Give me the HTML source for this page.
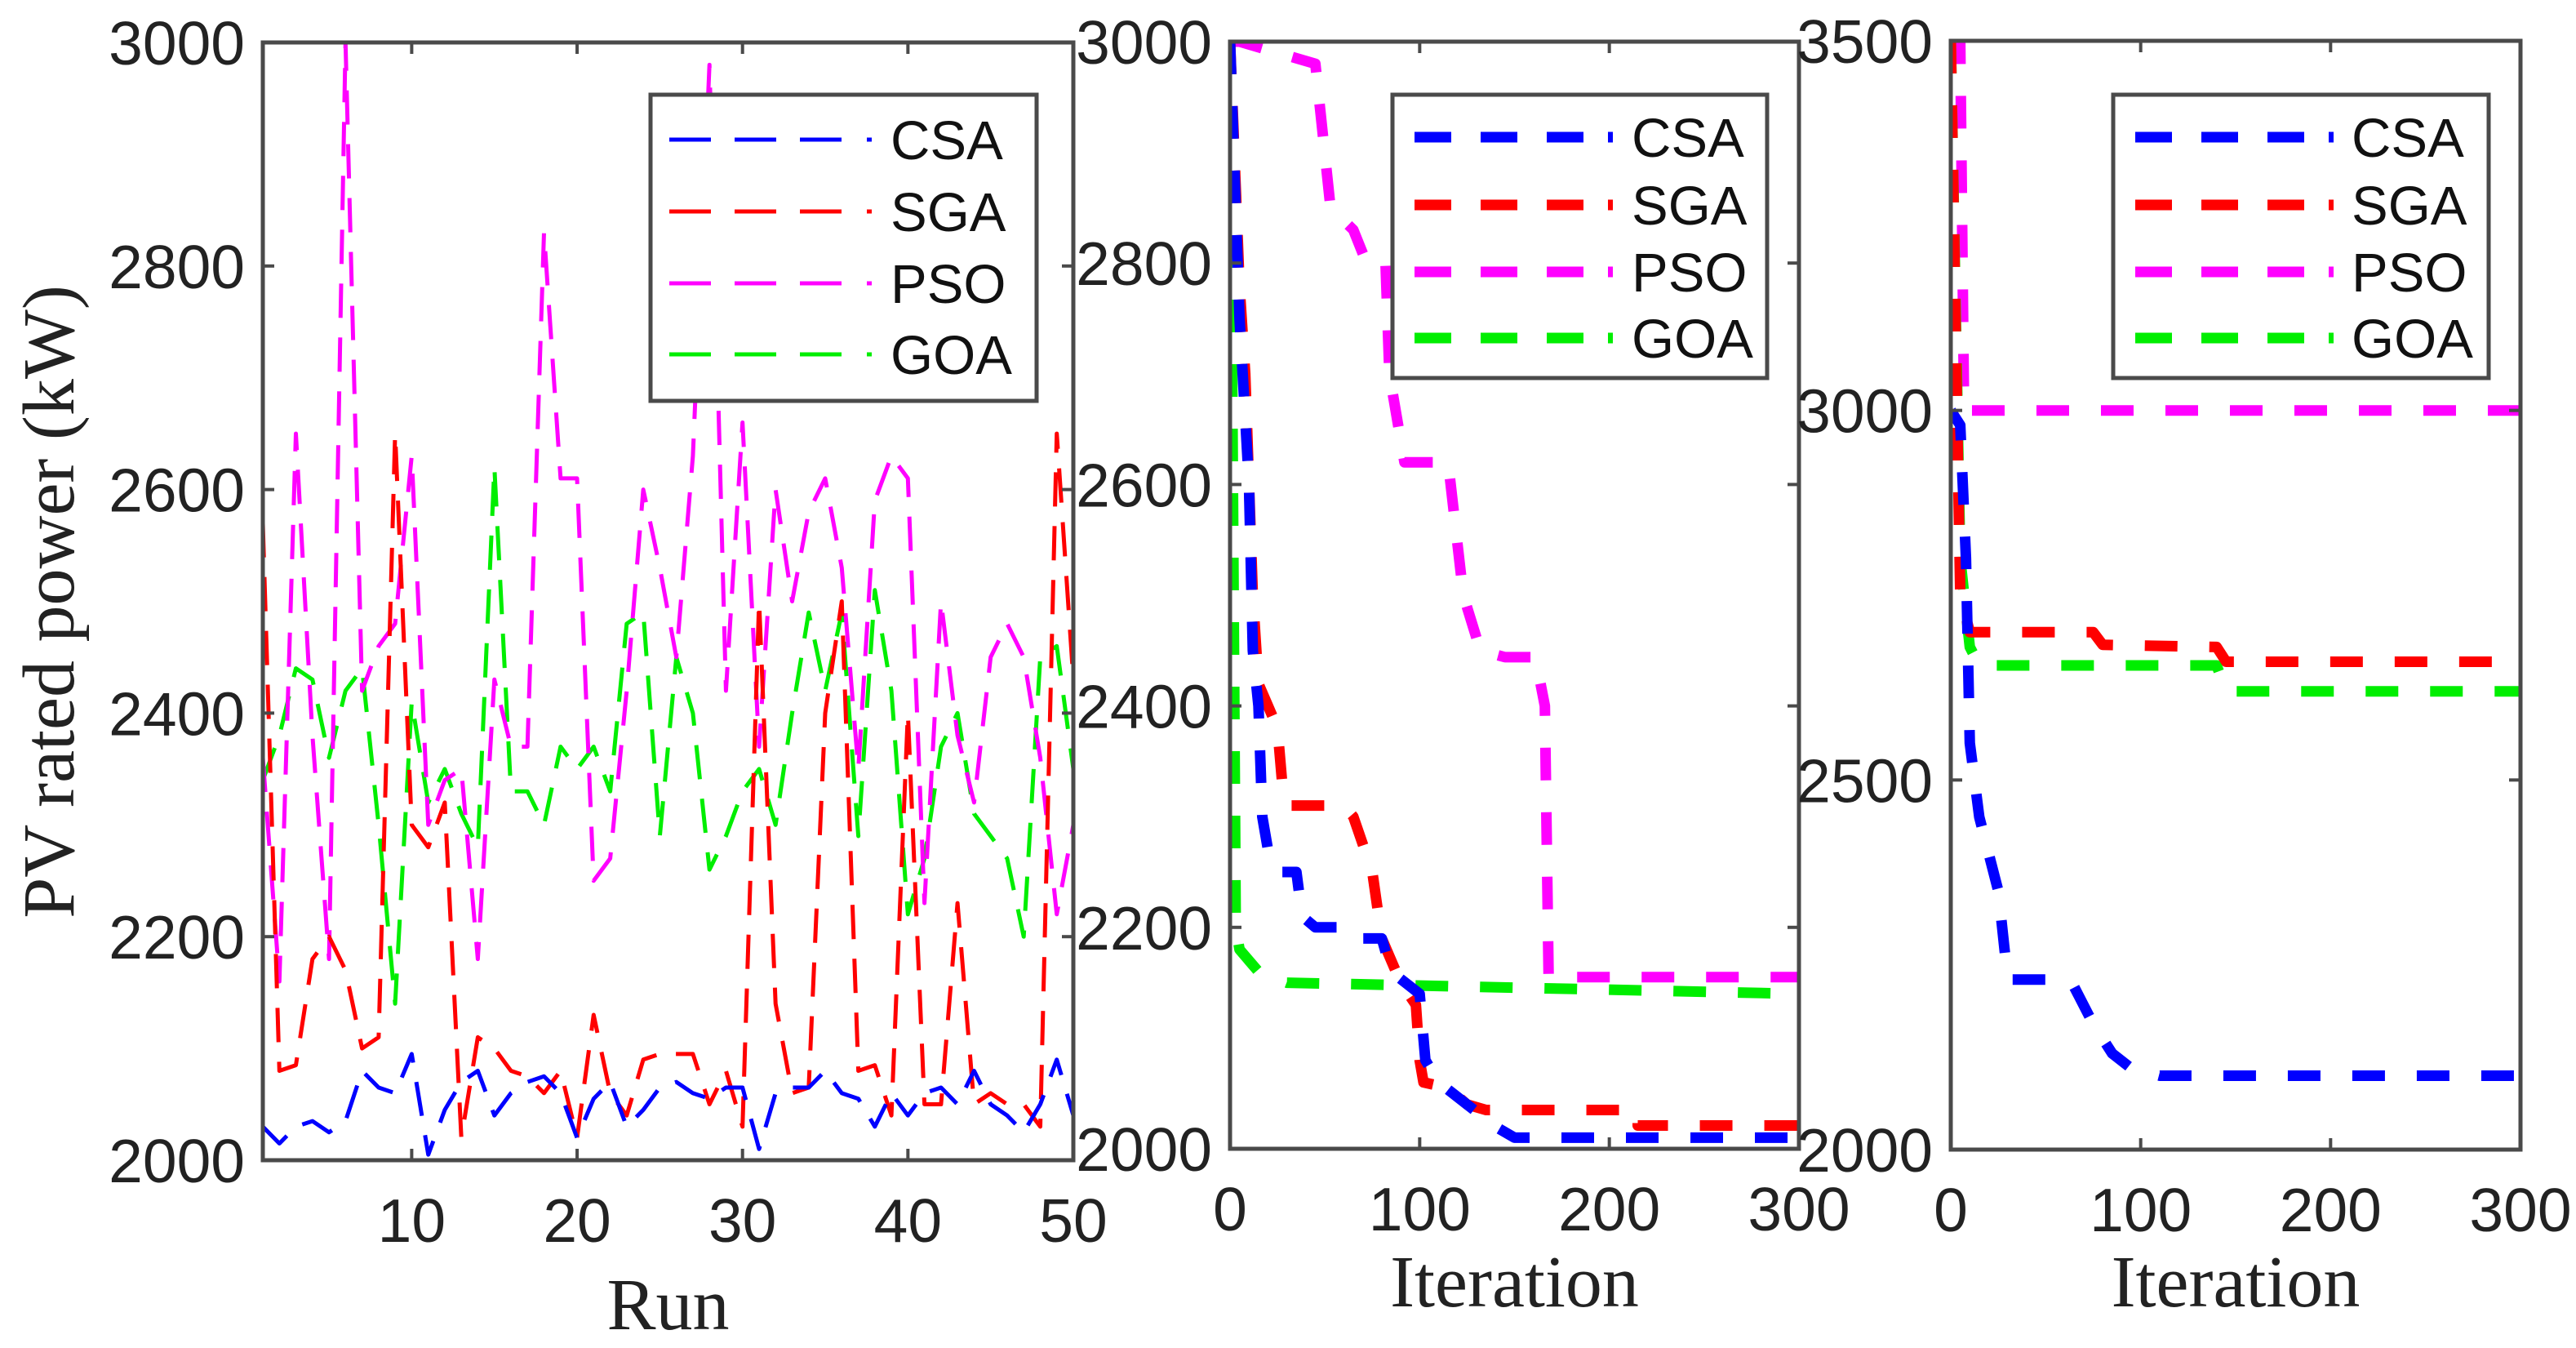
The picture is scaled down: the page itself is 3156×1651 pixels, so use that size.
<!DOCTYPE html>
<html>
<head>
<meta charset="utf-8">
<style>
html,body{margin:0;padding:0;background:#fff;}
svg{display:block;}
.tick{font-family:"Liberation Sans",Arial,sans-serif;font-size:75px;fill:#222;}
.lab{font-family:"Liberation Serif","Times New Roman",serif;font-size:90px;fill:#222;}
.leg{font-family:"Liberation Sans",Arial,sans-serif;font-size:67px;fill:#111;}
</style>
</head>
<body>
<svg id="chart" width="3156" height="1651" viewBox="0 0 3156 1651" xmlns="http://www.w3.org/2000/svg">
<rect x="0" y="0" width="3156" height="1651" fill="#fff"/>
</svg>
<script>
// ---------- Panel 1 data (Run vs PV rated power) ----------
const runs = Array.from({length:50},(_,i)=>i+1);
const runCSA = [2030,2015,2030,2035,2025,2035,2080,2065,2060,2095,2005,2045,2070,2080,2040,2060,2070,2075,2060,2020,2055,2070,2030,2045,2065,2070,2060,2055,2065,2065,2010,2060,2065,2065,2080,2060,2055,2030,2060,2040,2060,2065,2050,2080,2050,2040,2025,2050,2090,2040];
const runSGA = [2570,2080,2085,2180,2200,2170,2100,2110,2650,2300,2280,2320,2020,2110,2100,2080,2075,2060,2080,2020,2130,2060,2040,2090,2095,2095,2095,2050,2080,2030,2500,2140,2060,2065,2400,2500,2080,2085,2040,2400,2050,2050,2230,2050,2060,2050,2050,2030,2650,2430];
const runPSO = [2360,2160,2650,2380,2180,3000,2420,2460,2480,2630,2300,2340,2350,2180,2430,2370,2370,2830,2610,2610,2250,2270,2420,2600,2530,2450,2630,2980,2420,2660,2370,2600,2500,2580,2610,2530,2350,2590,2630,2610,2230,2500,2380,2320,2450,2480,2450,2360,2220,2300];
const runGOA = [2340,2380,2440,2430,2360,2420,2440,2300,2140,2410,2320,2350,2310,2280,2620,2330,2330,2300,2370,2350,2370,2330,2480,2490,2290,2450,2400,2260,2290,2330,2350,2300,2400,2490,2420,2490,2290,2510,2420,2220,2270,2370,2400,2310,2290,2270,2200,2450,2460,2350];
const p1XTicks = [10,20,30,40,50];
const p1YTicks = [2000,2200,2400,2600,2800,3000];

// ---------- Panel 2 data (Iteration convergence) ----------
const p2CSAit = [0,5,10,12,15,17,20,25,35,38,45,60,65,80,85,100,103,110,125,140,150,300];
const p2CSAval = [3000,2750,2600,2450,2400,2300,2270,2250,2250,2210,2200,2200,2190,2190,2160,2140,2080,2060,2040,2020,2010,2010];
const p2SGAit = [0,5,8,12,15,20,25,28,30,60,65,75,80,90,98,100,102,115,125,135,215,215,300];
const p2SGAval = [3000,2780,2700,2500,2420,2400,2380,2320,2310,2310,2300,2250,2190,2150,2130,2080,2060,2055,2040,2035,2035,2021,2021];
const p2PSOit = [0,5,45,53,65,72,82,84,92,115,123,132,145,161,166,168,300];
const p2PSOval = [3000,3000,2980,2850,2830,2800,2800,2700,2620,2620,2500,2450,2444,2444,2400,2155,2155];
const p2GOAit = [0,3,5,10,15,30,300];
const p2GOAval = [3000,2200,2180,2170,2160,2150,2140];
const p2XTicks = [0,100,200,300];
const p2YTicks = [2000,2200,2400,2600,2800,3000];

// ---------- Panel 3 data ----------
const p3CSAit = [0,5,8,10,15,25,30,60,65,75,85,95,110,300];
const p3CSAval = [3000,2980,2800,2550,2450,2350,2230,2230,2220,2170,2130,2110,2100,2100];
const p3SGAit = [0,5,10,75,80,140,145,300];
const p3SGAval = [3500,2750,2700,2700,2683,2680,2660,2660];
const p3PSOit = [0,5,7,300];
const p3PSOval = [3500,3500,3000,3000];
const p3GOAit = [0,5,10,15,140,145,300];
const p3GOAval = [3500,2800,2680,2655,2655,2620,2620];
const p3XTicks = [0,100,200,300];
const p3YTicks = [2000,2500,3000,3500];

const seriesNames = ['CSA','SGA','PSO','GOA'];
const COLORS = {CSA:'#0000ff',SGA:'#ff0000',PSO:'#ff00ff',GOA:'#00ee00'};

const NS='http://www.w3.org/2000/svg';
const svg=document.getElementById('chart');
function mk(tag,attrs,parent){const e=document.createElementNS(NS,tag);for(const k in attrs)e.setAttribute(k,attrs[k]);(parent||svg).appendChild(e);return e;}
function scale(d0,d1,r0,r1){return v=>r0+(v-d0)/(d1-d0)*(r1-r0);}

function panel(cfg){
  const g=mk('g',{});
  
  
  const X=scale(cfg.xd[0],cfg.xd[1],cfg.L,cfg.R), Y=scale(cfg.yd[0],cfg.yd[1],cfg.B,cfg.T);
  const clipId=cfg.name+'-clip';
  const cp=mk('clipPath',{id:clipId},g); mk('rect',{x:cfg.L,y:cfg.T,width:cfg.R-cfg.L,height:cfg.B-cfg.T},cp);
  cfg.series.forEach(s=>{
    const pts=s.x.map((v,i)=>X(v).toFixed(1)+','+Y(s.y[i]).toFixed(1)).join(' ');
    const pl=mk('polyline',{points:pts,fill:'none',stroke:COLORS[s.n],'stroke-width':cfg.lw,'stroke-dasharray':cfg.dash,'stroke-linejoin':'round','clip-path':'url(#'+clipId+')'},g);
    
    
  });
  const fr=mk('rect',{x:cfg.L,y:cfg.T,width:cfg.R-cfg.L,height:cfg.B-cfg.T,fill:'none',stroke:'#4a4a4a','stroke-width':5},g);
  
  
  cfg.xt.forEach(t=>{
    const x=X(t);
    mk('line',{x1:x,y1:cfg.B,x2:x,y2:cfg.B-14,stroke:'#4a4a4a','stroke-width':4},g);
    mk('line',{x1:x,y1:cfg.T,x2:x,y2:cfg.T+14,stroke:'#4a4a4a','stroke-width':4},g);
    const tx=mk('text',{x:x,y:cfg.B+100,'text-anchor':'middle',class:'tick'},g);
    tx.textContent=t;
    
    
  });
  cfg.yt.forEach(t=>{
    const y=Y(t);
    mk('line',{x1:cfg.L,y1:y,x2:cfg.L+14,y2:y,stroke:'#4a4a4a','stroke-width':4},g);
    mk('line',{x1:cfg.R,y1:y,x2:cfg.R-14,y2:y,stroke:'#4a4a4a','stroke-width':4},g);
    const tx=mk('text',{x:cfg.L-22,y:y+27,'text-anchor':'end',class:'tick'},g);
    tx.textContent=t;
    
    
  });
  const xl=mk('text',{x:(cfg.L+cfg.R)/2,y:cfg.xly,'text-anchor':'middle',class:'lab'},g);
  xl.textContent=cfg.xlabel;
  
  
  const lg=mk('g',{},g);
  
  
  mk('rect',{x:cfg.leg.x,y:cfg.leg.y,width:cfg.leg.w,height:cfg.leg.h,fill:'#fff',stroke:'#4a4a4a','stroke-width':5},lg);
  seriesNames.forEach((n,i)=>{
    const y=cfg.leg.ys[i];
    const e=mk('g',{},lg);
    
    
    mk('line',{x1:cfg.leg.lx0,y1:y,x2:cfg.leg.lx1,y2:y,stroke:COLORS[n],'stroke-width':cfg.leglw,'stroke-dasharray':cfg.legdash},e);
    mk('line',{x1:cfg.leg.lx1+cfg.leg.dotgap,y1:y,x2:cfg.leg.lx1+cfg.leg.dotgap+6,y2:y,stroke:COLORS[n],'stroke-width':cfg.leglw},e);
    const t=mk('text',{x:cfg.leg.tx,y:y+24,class:'leg'},e);
    t.textContent=n;
  });
}

panel({name:'run-panel',L:322,R:1315,T:52,B:1421,xd:[1,50],yd:[2000,3000],xt:p1XTicks,yt:p1YTicks,
  lw:5,dash:'42 24',xlabel:'Run',xly:1628,
  series:[{n:'GOA',x:runs,y:runGOA},{n:'PSO',x:runs,y:runPSO},{n:'SGA',x:runs,y:runSGA},{n:'CSA',x:runs,y:runCSA}],
  leg:{x:797,y:116,w:473,h:375,ys:[171,259,347,434],lx0:820,lx1:1032,dotgap:30,tx:1091},leglw:5,legdash:'51 29'});

panel({name:'iteration-panel-1',L:1507,R:2204,T:51,B:1407,xd:[0,300],yd:[2000,3000],xt:p2XTicks,yt:p2YTicks,
  lw:13,dash:'40 39',xlabel:'Iteration',xly:1600,
  series:[{n:'PSO',x:p2PSOit,y:p2PSOval},{n:'GOA',x:p2GOAit,y:p2GOAval},{n:'SGA',x:p2SGAit,y:p2SGAval},{n:'CSA',x:p2CSAit,y:p2CSAval}],
  leg:{x:1706,y:116,w:459,h:347,ys:[168,251,333,414],lx0:1733,lx1:1940,dotgap:30,tx:1999},leglw:13,legdash:'45 36'});

panel({name:'iteration-panel-2',L:2390,R:3088,T:50,B:1408,xd:[0,300],yd:[2000,3500],xt:p3XTicks,yt:p3YTicks,
  lw:13,dash:'40 39',xlabel:'Iteration',xly:1600,
  series:[{n:'PSO',x:p3PSOit,y:p3PSOval},{n:'GOA',x:p3GOAit,y:p3GOAval},{n:'SGA',x:p3SGAit,y:p3SGAval},{n:'CSA',x:p3CSAit,y:p3CSAval}],
  leg:{x:2589,y:116,w:460,h:347,ys:[168,251,333,414],lx0:2616,lx1:2823,dotgap:30,tx:2881},leglw:13,legdash:'45 36'});

const yl=mk('text',{x:0,y:0,'text-anchor':'middle',class:'lab',transform:'translate(90,737) rotate(-90)'});
yl.textContent='PV rated power (kW)';


</script>
</body>
</html>
